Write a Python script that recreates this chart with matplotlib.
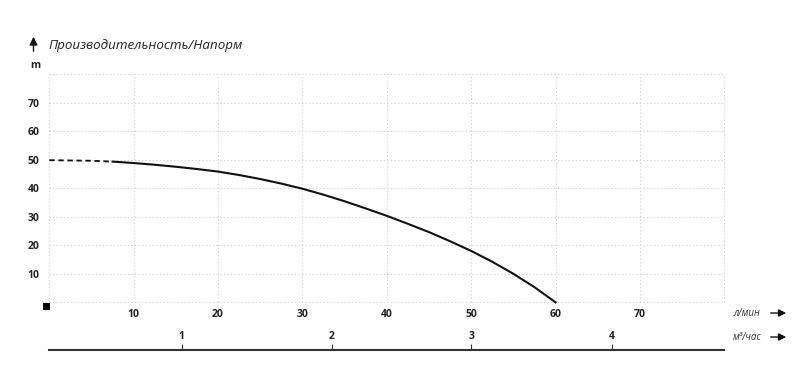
import matplotlib
matplotlib.use("Agg")
import matplotlib.pyplot as plt
from matplotlib.patches import Rectangle, FancyArrowPatch

plt.rcParams['font.family'] = ['Open Sans', 'DejaVu Sans']

# data (flow in l/min, head in m)
flow_dashed = [0, 2.5, 5, 7.5]
head_dashed = [49.8, 49.7, 49.6, 49.3]
flow_solid = [7.5, 10, 12.5, 15, 17.5, 20, 22.5, 25, 27.5, 30, 32.5, 35, 37.5,
              40, 42.5, 45, 47.5, 50, 52.5, 55, 57.5, 60]
head_solid = [49.3, 48.8, 48.2, 47.5, 46.7, 45.8, 44.6, 43.2, 41.6, 39.8, 37.7, 35.4, 32.9,
              30.3, 27.5, 24.6, 21.4, 18.0, 14.2, 10.0, 5.3, 0.0]
x_ticks = [0, 10, 20, 30, 40, 50, 60, 70, 80]
x_labels = ['', '10', '20', '30', '40', '50', '60', '70', '']
y_ticks = [0, 10, 20, 30, 40, 50, 60, 70, 80]
y_labels = ['', '10', '20', '30', '40', '50', '60', '70', '']
m3_pos = [15.7, 33.5, 50.0, 66.7]   # positions in l/min
m3_labels = ['1', '2', '3', '4']

W, H = 800, 368
fig = plt.figure(figsize=(8, 3.68), dpi=100)

def fx(px):
    return px / W

def fy(py):
    return 1 - py / H

left, right, top, bottom = 49.3, 724.3, 74, 302.3
ax = fig.add_axes([fx(left), fy(bottom), (right - left) / W, (bottom - top) / H])
ax.set_xlim(0, 80)
ax.set_ylim(0, 80)
for s in ax.spines.values():
    s.set_visible(False)
ax.set_xticks(x_ticks)
ax.set_xticklabels(x_labels)
ax.set_yticks(y_ticks)
ax.set_yticklabels(y_labels)
ax.tick_params(length=0, labelsize=7.5, colors='#222222')
ax.tick_params(axis='x', pad=5)
ax.tick_params(axis='y', pad=7)
for lab in ax.get_xticklabels() + ax.get_yticklabels():
    lab.set_fontweight('bold')
ax.grid(True, color='#d4d4d4', linestyle=(0, (1.2, 2)), linewidth=0.8)
for gl in ax.get_xgridlines() + ax.get_ygridlines():
    gl.set_clip_on(False)

ax.plot(flow_dashed, head_dashed, color='#111111', linewidth=1.3, linestyle=(0, (3, 2)), clip_on=False)
ax.plot(flow_solid, head_solid, color='#111111', linewidth=1.5, clip_on=False,
        solid_joinstyle='round')

# second (m3/h) scale
ax2 = fig.add_axes([fx(left), fy(350), (right - left) / W, 7 / H])
ax2.set_xlim(0, 80)
ax2.set_ylim(0, 1)
ax2.set_yticks([])
for k in ['top', 'left', 'right']:
    ax2.spines[k].set_visible(False)
ax2.spines['bottom'].set_color('#333333')
ax2.spines['bottom'].set_linewidth(1.5)
ax2.patch.set_visible(False)
ax2.set_xticks(m3_pos)
ax2.set_xticklabels(m3_labels)
ax2.tick_params(axis='x', direction='in', length=4, width=0.8, color='#333333',
                labelbottom=False, labeltop=True, top=False, bottom=True,
                labelsize=7.5, labelcolor='#222222', pad=1)
for lab in ax2.get_xticklabels():
    lab.set_fontweight('bold')

# unit labels and arrows
fig.text(fx(733), fy(313), 'л/мин', fontsize=7, style='italic', color='#333333', va='center', ha='left')
fig.text(fx(733), fy(337), 'м³/час', fontsize=7, style='italic', color='#333333', va='center', ha='left')
for yy in (313, 337):
    fig.add_artist(FancyArrowPatch((fx(768), fy(yy)), (fx(789), fy(yy)),
                   transform=fig.transFigure, arrowstyle='-|>', mutation_scale=11,
                   color='#111111', linewidth=1))

# title with up arrow
fig.add_artist(FancyArrowPatch((fx(33.5), fy(54)), (fx(33.5), fy(34)),
               transform=fig.transFigure, arrowstyle='-|>', mutation_scale=12,
               color='#111111', linewidth=1))
fig.text(fx(48), fy(45), 'Производительность/Напорм', fontsize=9.6, style='italic',
         color='#222222', va='center', ha='left')
fig.text(fx(35), fy(65), 'm', fontsize=7.5, fontweight='bold', color='#222222', va='center', ha='center')

# small black square at origin
fig.add_artist(Rectangle((fx(42.5), fy(310)), 7 / W, 7 / H, transform=fig.transFigure,
                         facecolor='black', edgecolor='none'))

fig.savefig('out.png', dpi=100)
